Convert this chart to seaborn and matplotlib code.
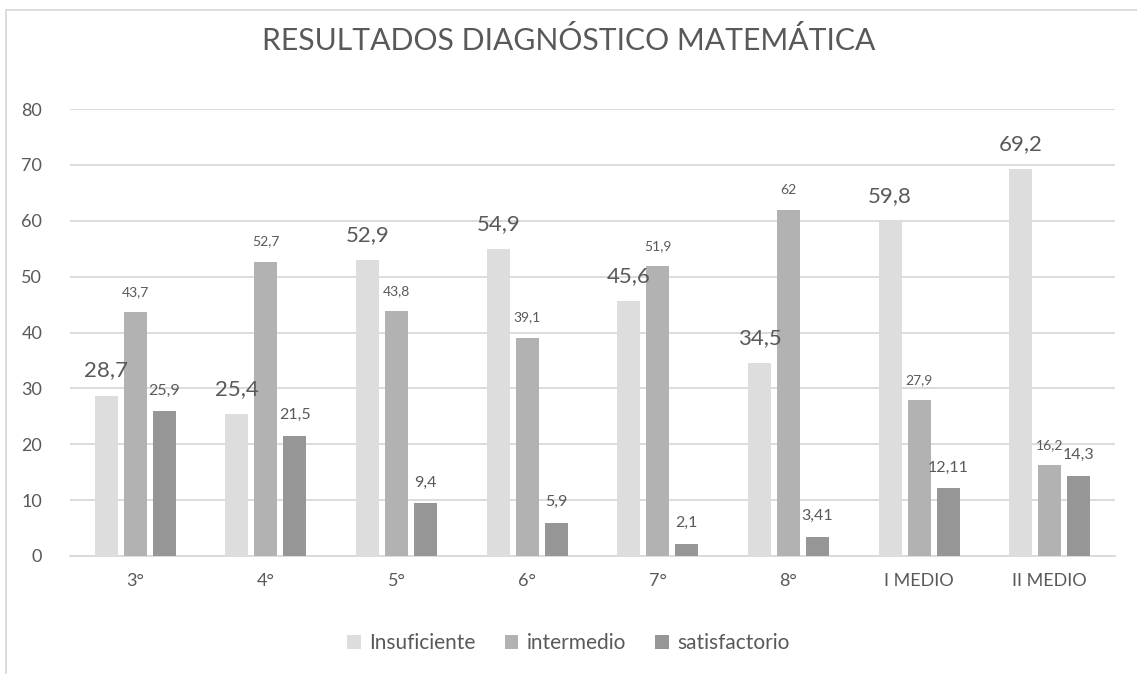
import matplotlib
matplotlib.use("Agg")
import matplotlib.pyplot as plt
from matplotlib.patches import Rectangle
import seaborn as sns
import pandas as pd

# Grades and performance levels
grados = ["3°", "4°", "5°", "6°", "7°", "8°", "I MEDIO", "II MEDIO"]
niveles = ["Insuficiente", "intermedio", "satisfactorio"]

insuficiente = [28.7, 25.4, 52.9, 54.9, 45.6, 34.5, 59.8, 69.2]
intermedio = [43.7, 52.7, 43.8, 39.1, 51.9, 62, 27.9, 16.2]
satisfactorio = [25.9, 21.5, 9.4, 5.9, 2.1, 3.41, 12.11, 14.3]

colores = ["#DDDDDD", "#B2B2B2", "#969696"]
texto = "#595959"

df = pd.DataFrame({
    "grado": grados * 3,
    "nivel": [niveles[0]] * 8 + [niveles[1]] * 8 + [niveles[2]] * 8,
    "valor": insuficiente + intermedio + satisfactorio,
})

sns.set_theme(style="white")
plt.rcParams["font.family"] = ["Lato", "DejaVu Sans"]

fig = plt.figure(figsize=(11.37, 6.74), dpi=100)
ax = fig.add_axes([70 / 1137, 1 - 556 / 674, (1115 - 70) / 1137, (556 - 109) / 674])

sns.barplot(data=df, x="grado", y="valor", hue="nivel", order=grados,
            hue_order=niveles, palette=colores, width=0.666, gap=0.21,
            saturation=1, edgecolor="none", ax=ax, zorder=3)

ax.set_ylim(0, 80)
ax.set_yticks(range(0, 81, 10))
ax.set_xlim(-0.5, len(grados) - 0.5)
ax.grid(axis="y", color="#D9D9D9", linewidth=1.3, zorder=0)
ax.set_axisbelow(True)
for s in ["top", "right", "left"]:
    ax.spines[s].set_visible(False)
ax.spines["bottom"].set_color("#D9D9D9")
ax.spines["bottom"].set_linewidth(1.3)
ax.tick_params(axis="both", length=0, labelsize=13, colors=texto)
ax.tick_params(axis="y", pad=20)
ax.tick_params(axis="x", pad=12)
ax.set_xlabel("")
ax.set_ylabel("")


def fmt(v):
    return f"{v:g}".replace(".", ",")


tamanos = [16, 10, 11.5]
for cont, tam in zip(ax.containers, tamanos):
    ax.bar_label(cont, labels=[fmt(b.get_height()) for b in cont],
                 padding=11 if tam > 12 else 10, fontsize=tam, color=texto)

fig.suptitle("RESULTADOS DIAGNÓSTICO MATEMÁTICA", x=0.5, y=1 - 40 / 674,
             va="center", fontsize=21.7, color=texto)

leg = ax.legend(loc="center", bbox_to_anchor=(0.5, 1 - 643 / 674),
                bbox_transform=fig.transFigure, ncol=3, frameon=False,
                fontsize=15, handlelength=0.65, handleheight=0.65,
                handletextpad=0.4, columnspacing=1.4, labelcolor=texto)

# Light outer border of the chart area
fig.patches.append(Rectangle((6 / 1137, -0.2), 2, 1.2 - 10 / 674,
                             transform=fig.transFigure, fill=False,
                             edgecolor="#D9D9D9", linewidth=1.3))

fig.savefig("out.png", dpi=100, facecolor="white")
